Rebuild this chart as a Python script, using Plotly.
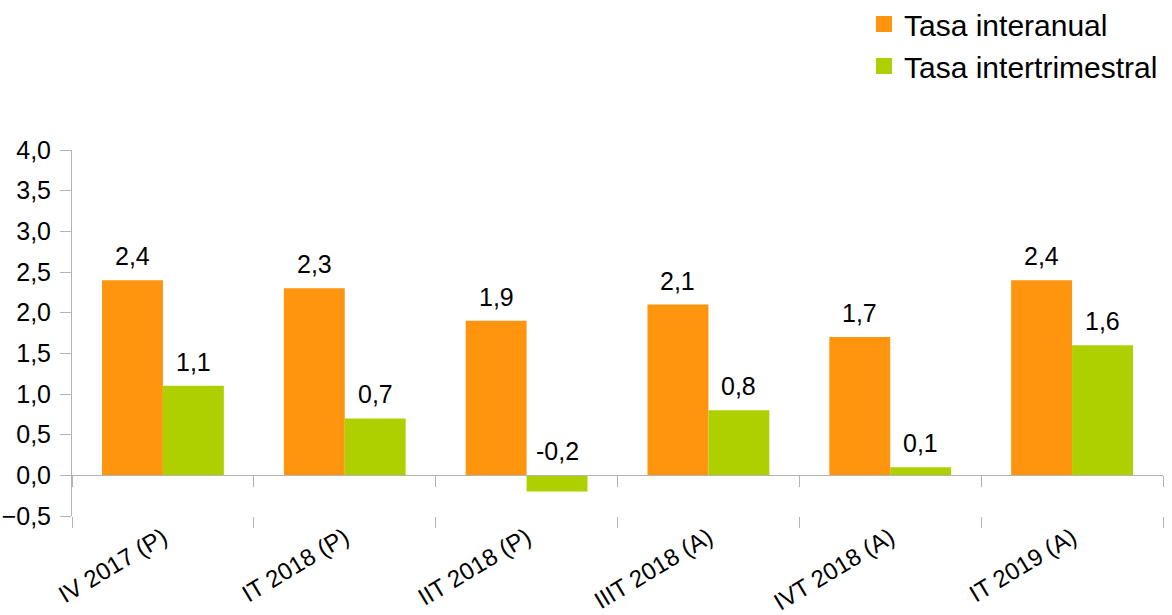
import plotly.graph_objects as go

categories = ["IV 2017 (P)", "IT 2018 (P)", "IIT 2018 (P)", "IIIT 2018 (A)", "IVT 2018 (A)", "IT 2019 (A)"]
interanual = [2.4, 2.3, 1.9, 2.1, 1.7, 2.4]
intertrimestral = [1.1, 0.7, -0.2, 0.8, 0.1, 1.6]
series_names = ["Tasa interanual", "Tasa intertrimestral"]
colors = ["#ff950e", "#aecf00"]

FONT = "Liberation Sans, Arial, sans-serif"
GRAY = "#b3b3b3"
bargap = 0.33
half_w = (1 - bargap) / 2

fig = go.Figure()
for name, vals, col in zip(series_names, [interanual, intertrimestral], colors):
    fig.add_trace(go.Bar(x=categories, y=vals, name=name, marker=dict(color=col, line=dict(width=0)),
                         showlegend=False, xaxis="x", yaxis="y"))
    # legend-only marker
    fig.add_trace(go.Scatter(x=[None], y=[None], mode="markers", name=name, legendgroup=name,
                             marker=dict(symbol="square", size=17, color=col), showlegend=True))

# data labels
for k, vals in enumerate([interanual, intertrimestral]):
    off = -half_w / 2 if k == 0 else half_w / 2
    for i, v in enumerate(vals):
        fig.add_annotation(x=i + off, y=max(v, 0), xref="x", yref="y", text=f"{v:.1f}".replace(".", ","),
                           showarrow=False, yanchor="bottom", yshift=8,
                           font=dict(family=FONT, size=25, color="#000000"))

y_min, y_max = -0.5, 4.0
plot_top, plot_h = 150, 366
fig.update_layout(
    width=1172, height=615,
    margin=dict(l=72, r=9, t=plot_top, b=615 - plot_top - plot_h, autoexpand=False),
    paper_bgcolor="white", plot_bgcolor="white",
    barmode="group", bargap=bargap, bargroupgap=0,
    separators=",.",
    font=dict(family=FONT, size=25, color="#000000"),
    legend=dict(x=1.0, xanchor="right", y=1 + (plot_top + 2) / plot_h, yref="paper", yanchor="top",
                font=dict(family=FONT, size=30, color="#000000"),
                traceorder="grouped", tracegroupgap=0, itemwidth=30,
                bgcolor="rgba(0,0,0,0)"),
    xaxis=dict(type="category", tickson="boundaries", ticks="outside", ticklen=11, tickcolor=GRAY,
               showline=False, showgrid=False, tickangle=-31, zeroline=False, automargin=False,
               ticklabelstandoff=2,
               tickfont=dict(family=FONT, size=24, color="#000000")),
    xaxis2=dict(type="category", overlaying="x", matches="x", anchor="free",
                position=(0 - y_min) / (y_max - y_min), tickson="boundaries", ticks="outside",
                ticklen=11, tickcolor=GRAY, showline=True, linecolor=GRAY, linewidth=1,
                showticklabels=False, showgrid=False, zeroline=False, automargin=False),
    yaxis=dict(range=[y_min, y_max], dtick=0.5, tickformat=".1f", ticks="outside", ticklen=11,
               tickcolor=GRAY, showline=True, linecolor=GRAY, linewidth=1, showgrid=False,
               zeroline=False, automargin=False, ticklabelstandoff=4,
               tickfont=dict(family=FONT, size=25, color="#000000")),
)
# invisible trace to carry xaxis2 categories
fig.add_trace(go.Bar(x=categories, y=[0] * len(categories), xaxis="x2", yaxis="y", showlegend=False,
                     marker=dict(opacity=0), hoverinfo="skip"))

fig.write_html("out.html", config={"displayModeBar": False},
               post_script="document.body.style.margin='0';")
